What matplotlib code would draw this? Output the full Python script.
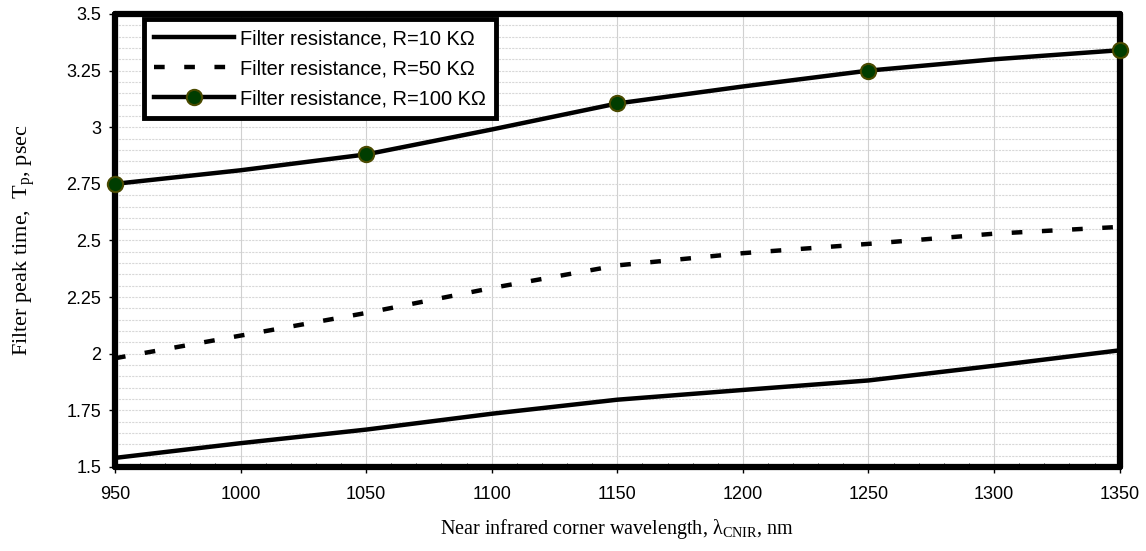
import matplotlib
matplotlib.use('Agg')
import matplotlib.pyplot as plt
from matplotlib.ticker import MultipleLocator, FuncFormatter

plt.rcParams['mathtext.fontset'] = 'custom'
plt.rcParams['mathtext.rm'] = 'Liberation Serif'

wavelength = [950, 1000, 1050, 1100, 1150, 1200, 1250, 1300, 1350]
tp_r10 = [1.54, 1.605, 1.665, 1.735, 1.797, 1.84, 1.882, 1.947, 2.015]
tp_r50 = [1.98, 2.08, 2.18, 2.29, 2.39, 2.444, 2.485, 2.53, 2.56]
tp_r100 = [2.75, 2.81, 2.88, 2.99, 3.105, 3.18, 3.25, 3.30, 3.34]

labels = ['Filter resistance, R=10 KΩ', 'Filter resistance, R=50 KΩ',
          'Filter resistance, R=100 KΩ']

fig = plt.figure(figsize=(11.46, 5.51), dpi=100)
ax = fig.add_axes([0.1003, 0.1525, 0.8767, 0.8221])

ax.plot(wavelength, tp_r10, color='black', lw=3.2, label=labels[0], zorder=3)
ax.plot(wavelength, tp_r50, color='black', lw=3.2, dashes=(2.4, 4.4),
        dash_capstyle='butt', label=labels[1], zorder=3)
ax.plot(wavelength, tp_r100, color='black', lw=3.2, marker='o', markevery=2,
        markersize=11, markerfacecolor='#003d00', markeredgecolor='#4a4a00',
        markeredgewidth=1.5, label=labels[2], zorder=4, clip_on=False)

ax.set_xlim(950, 1350)
ax.set_ylim(1.5, 3.5)
ax.xaxis.set_major_locator(MultipleLocator(50))
ax.xaxis.set_minor_locator(MultipleLocator(10))
ax.yaxis.set_major_locator(MultipleLocator(0.25))
ax.yaxis.set_minor_locator(MultipleLocator(0.05))
ax.yaxis.set_major_formatter(FuncFormatter(lambda v, p: f'{v:g}'))

ax.grid(True, which='major', axis='x', color='#d0d0d0', lw=0.8)
ax.grid(True, which='both', axis='y', color='#d8d8d8', lw=0.8, ls=(0, (2, 1)))

for s in ax.spines.values():
    s.set_linewidth(4.5)
    s.set_capstyle('round')

ax.tick_params(axis='both', which='major', labelsize=13, length=4, width=1,
               direction='out')
ax.tick_params(axis='x', which='minor', length=3, direction='in')
ax.tick_params(axis='y', which='minor', length=0)
ax.tick_params(axis='x', pad=10)
ax.tick_params(axis='y', pad=6)
for t in ax.get_xticklabels() + ax.get_yticklabels():
    t.set_family('Liberation Sans')

ax.set_xlabel('Near infrared corner wavelength, λ$_{\\mathrm{CNIR}}$, nm',
              family='Liberation Serif', fontsize=14.5, labelpad=10)
ax.set_ylabel('Filter peak time,  T$_{\\mathrm{p}}$, psec',
              family='Liberation Serif', fontsize=16, labelpad=20)

leg = ax.legend(loc='upper left', bbox_to_anchor=(0.029, 0.988),
                prop={'family': 'Liberation Sans', 'size': 14.4},
                fancybox=False, framealpha=1, edgecolor='black',
                handlelength=4.0, handletextpad=0.3, borderpad=0.5,
                labelspacing=0.55, borderaxespad=0)
leg.get_frame().set_linewidth(3.5)
leg.set_zorder(5)

fig.savefig('out.png', dpi=100)
